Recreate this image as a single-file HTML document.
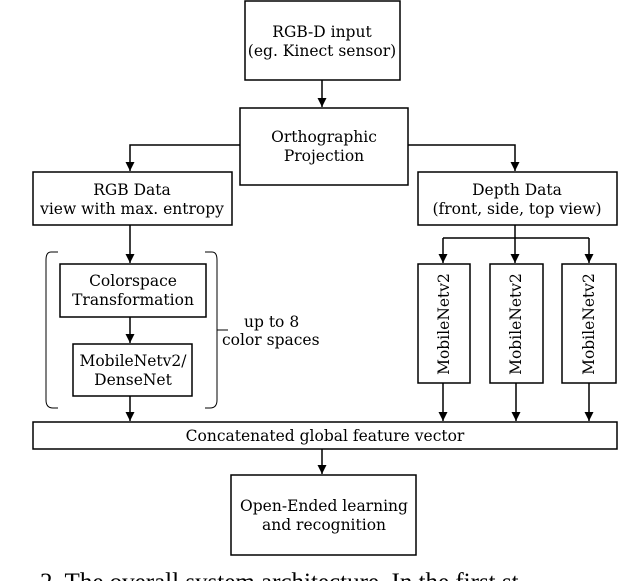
<!DOCTYPE html>
<html><head><style>body{margin:0;background:#fff;overflow:hidden}svg{display:block}text{font-family:"DejaVu Serif","Liberation Serif",serif;font-size:15.5px;fill:#000}</style></head><body>
<svg width="640" height="581" viewBox="0 0 640 581" xmlns="http://www.w3.org/2000/svg">
<defs><marker id="a" markerWidth="9" markerHeight="9" refX="9" refY="4.5" orient="auto" markerUnits="userSpaceOnUse"><path d="M0,0 L9,4.5 L0,9 z" fill="#000"/></marker></defs>
<g fill="none" stroke="#000" stroke-width="1.5">
<rect x="245" y="1" width="155" height="79"/>
<rect x="240" y="108" width="168" height="77"/>
<rect x="33" y="172" width="199" height="53"/>
<rect x="418" y="172" width="199" height="53"/>
<rect x="60" y="264" width="146" height="53"/>
<rect x="73" y="344" width="119" height="52"/>
<rect x="418" y="264" width="52" height="119"/>
<rect x="490" y="264" width="53" height="119"/>
<rect x="562" y="264" width="54" height="119"/>
<rect x="33" y="422" width="584" height="27"/>
<rect x="231" y="475" width="185" height="80"/>
<path d="M58,252 H51 Q46,252 46,260 V400 Q46,408 53,408 H58" stroke-width="1"/>
<path d="M205,252 H212 Q217,252 217,260 V400 Q217,408 210,408 H205" stroke-width="1"/>
<path d="M217,330 H228" stroke-width="1"/>
<path d="M443,238 H589"/>
<g marker-end="url(#a)">
<path d="M322,80 V107"/>
<path d="M240,145 H130 V171"/>
<path d="M408,145 H515 V171"/>
<path d="M130,225 V263"/>
<path d="M130,317 V343"/>
<path d="M130,396 V421"/>
<path d="M515,225 V263"/>
<path d="M443,238 V263"/>
<path d="M589,238 V263"/>
<path d="M443,383 V421"/>
<path d="M516,383 V421"/>
<path d="M589,383 V421"/>
<path d="M322,449 V474"/>
</g></g>
<g text-anchor="middle">
<text x="322" y="37">RGB-D input</text>
<text x="322" y="56">(eg. Kinect sensor)</text>
<text x="324" y="142">Orthographic</text>
<text x="324" y="161">Projection</text>
<text x="132" y="195">RGB Data</text>
<text x="132" y="214">view with max. entropy</text>
<text x="517" y="195">Depth Data</text>
<text x="517" y="214">(front, side, top view)</text>
<text x="133" y="286">Colorspace</text>
<text x="133" y="305">Transformation</text>
<text x="133" y="366">MobileNetv2/</text>
<text x="133" y="385">DenseNet</text>
<text x="325" y="441">Concatenated global feature vector</text>
<text x="324" y="511">Open-Ended learning</text>
<text x="324" y="530">and recognition</text>
<text transform="translate(449,324) rotate(-90)">MobileNetv2</text>
<text transform="translate(521,324) rotate(-90)">MobileNetv2</text>
<text transform="translate(594,324) rotate(-90)">MobileNetv2</text>
</g>
<text x="244" y="327">up to 8</text>
<text x="222" y="345">color spaces</text>
<text x="40" y="590" style="font-family:'Liberation Serif',serif;font-size:25px">2.  The overall system architecture. In the first st</text>
</svg>
</body></html>
